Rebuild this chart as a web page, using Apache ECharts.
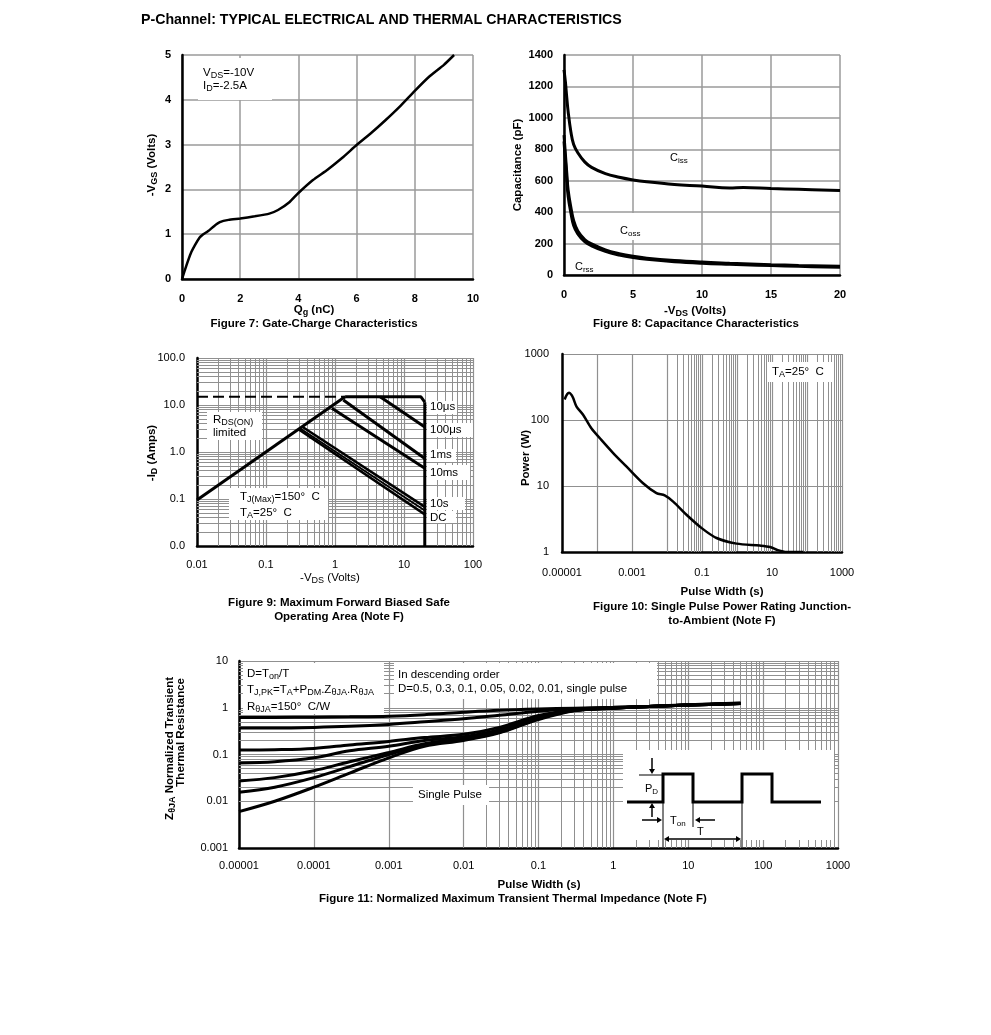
<!DOCTYPE html>
<html>
<head>
<meta charset="utf-8">
<script src="https://cdn.jsdelivr.net/npm/echarts@6/dist/echarts.min.js"></script>
<style>
html,body{margin:0;padding:0;background:#fff;}
#c{width:991px;height:1035px;}
</style>
</head>
<body>
<div id="c"></div>
<script>
// ---------------- DATA ----------------
// Figure 7: Gate charge
const gcQg  = [0, 0.15, 0.3, 0.45, 0.6, 0.7, 0.9, 1.1, 1.3, 1.6, 2.0, 2.5, 3.0, 3.3, 3.7, 4.0, 4.5, 5.0, 5.5, 6.0, 6.5, 7.0, 7.5, 8.0, 8.5, 9.0, 9.35];
const gcVgs = [0, 0.30, 0.57, 0.76, 0.92, 0.98, 1.07, 1.18, 1.27, 1.32, 1.35, 1.40, 1.46, 1.54, 1.72, 1.92, 2.21, 2.44, 2.70, 2.99, 3.26, 3.55, 3.86, 4.20, 4.52, 4.78, 5.0];

// Figure 8: Capacitance
const capVds = [0, 0.1, 0.2, 0.3, 0.5, 0.7, 1, 1.5, 2, 3, 4, 5, 6, 8, 10, 12, 13, 15, 17, 20];
const capCiss = [1305, 1230, 1130, 1040, 910, 830, 778, 720, 685, 645, 622, 605, 593, 576, 566, 553, 557, 550, 545, 538];
const capCoss = [890, 770, 650, 540, 430, 345, 280, 226, 198, 160, 136, 119, 107, 92, 82, 75, 72, 66, 61, 55];
const capCrss = [850, 730, 610, 500, 395, 315, 262, 212, 186, 150, 127, 111, 100, 85, 75, 68, 65, 60, 55, 49];

// Figure 9: Safe operating area ([-VDS, -ID] pairs)
const soaRdsLimit = [[0.01, 0.095], [1.4, 15]];
const soaCurrentLimit = [[0.01, 15], [1.4, 15]];
const soa10us  = [[1.4, 15], [17.5, 15], [20, 11.5]];
const soaBvdss = [[20, 11.5], [20, 0.01]];
const soa100us = [[4.5, 15], [20, 3.4]];
const soa1ms   = [[1.32, 12.8], [20, 0.73]];
const soa10ms  = [[0.9, 8.5], [20, 0.45]];
const soa10s   = [[0.335, 3.45], [20, 0.068]];
const soa1s    = [[0.31, 3.2], [20, 0.057]];
const soaDC    = [[0.295, 3.05], [20, 0.047]];

// Figure 10: Single pulse power
const sppWidth = [1.19e-5, 1.4e-5, 1.6e-5, 1.9e-5, 2.1e-5, 2.6e-5, 4e-5, 6.9e-5, 1.33e-4, 2.9e-4, 6.9e-4, 2.07e-3, 5e-3, 8.6e-3, 1.5e-2, 3.6e-2, 9.8e-2, 0.26, 0.97, 4.5, 8.8, 13.7, 26, 80];
const sppPower = [205, 245, 258, 238, 214, 160, 120, 75, 50, 31.6, 19.8, 11, 7.8, 7.2, 5.8, 3.67, 2.3, 1.63, 1.34, 1.25, 1.19, 1.08, 1.0, 1.0];

// Figure 11: Normalized transient thermal impedance
const ztWidth = [1e-5, 3e-5, 1e-4, 3e-4, 1e-3, 3e-3, 1e-2, 3e-2, 0.1, 0.3, 1, 3, 10, 50];
const ztD05   = [0.62, 0.62, 0.63, 0.64, 0.66, 0.71, 0.80, 0.88, 0.94, 0.98, 1.02, 1.08, 1.16, 1.26];
const ztD03   = [0.37, 0.37, 0.38, 0.40, 0.44, 0.50, 0.58, 0.69, 0.84, 0.95, 1.01, 1.07, 1.15, 1.25];
const ztD01   = [0.125, 0.127, 0.135, 0.16, 0.19, 0.23, 0.27, 0.38, 0.68, 0.90, 0.99, 1.06, 1.14, 1.24];
const ztD005  = [0.066, 0.07, 0.085, 0.12, 0.15, 0.20, 0.24, 0.34, 0.64, 0.89, 0.99, 1.06, 1.14, 1.24];
const ztD002  = [0.027, 0.032, 0.045, 0.07, 0.11, 0.17, 0.22, 0.31, 0.60, 0.88, 0.98, 1.06, 1.14, 1.24];
const ztD001  = [0.0155, 0.02, 0.032, 0.055, 0.10, 0.16, 0.21, 0.30, 0.58, 0.87, 0.98, 1.06, 1.14, 1.24];
const ztSingle= [0.006, 0.01, 0.02, 0.04, 0.085, 0.15, 0.20, 0.29, 0.56, 0.86, 0.98, 1.06, 1.14, 1.24];

// ---------------- STYLE / HELPERS ----------------
const FONT = '"Liberation Sans", Arial, Helvetica, sans-serif';
const GRIDC = '#9a9a9a';
const LOGGRIDC = '#909090';
const TICK_FS = 11;
const zip = (xs, ys) => xs.map((x, i) => [x, ys[i]]);

function fmtLog(v) {
  const e = Math.round(Math.log10(v));
  return e >= 0 ? String(Math.pow(10, e)) : Math.pow(10, e).toFixed(-e);
}
function minorVals(lo, hi) {
  const out = [];
  for (let e = Math.round(Math.log10(lo)); e < Math.round(Math.log10(hi)); e++)
    for (let m = 2; m <= 9; m++) out.push(+(m * Math.pow(10, e)).toPrecision(3));
  return out;
}
function axisCommon(gi, bold, margin, extra) {
  return Object.assign({
    gridIndex: gi,
    axisLine: { show: true, onZero: false, lineStyle: { color: '#000', width: 2.5 } },
    axisTick: { show: false },
    axisLabel: { color: '#000', fontFamily: FONT, fontSize: TICK_FS, fontWeight: bold ? 'bold' : 'normal', margin: margin, formatter: v => String(v) },
    splitLine: { show: true, lineStyle: { color: GRIDC, width: 1.5 } }
  }, extra);
}
function logAxis(gi, margin, extra, formatter) {
  return axisCommon(gi, false, margin, Object.assign({
    type: 'log', logBase: 10,
    axisLabel: { color: '#000', fontFamily: FONT, fontSize: TICK_FS, margin: margin, formatter: formatter },
    splitLine: { show: true, lineStyle: { color: LOGGRIDC, width: 1.2 } }
  }, extra));
}
function minorSeries(ai, xs, ys) {
  return {
    type: 'line', xAxisIndex: ai, yAxisIndex: ai, data: [], z: 1, silent: true,
    markLine: {
      silent: true, symbol: 'none', animation: false,
      label: { show: false },
      lineStyle: { color: LOGGRIDC, width: 1, type: 'solid' },
      emphasis: { disabled: true },
      data: xs.map(v => ({ xAxis: v })).concat(ys.map(v => ({ yAxis: v })))
    }
  };
}
function curve(ai, data, width, smooth, extra) {
  return Object.assign({
    type: 'line', xAxisIndex: ai, yAxisIndex: ai, data: data, z: 10,
    showSymbol: false, symbol: 'none', smooth: smooth, silent: true,
    lineStyle: { color: '#000', width: width },
    emphasis: { disabled: true }
  }, extra || {});
}

// rich text: "V_{DS}=-10V" -> tokens
function richStr(s) {
  let out = '';
  const re = /_\{([^}]*)\}/g;
  let last = 0, m;
  while ((m = re.exec(s)) !== null) {
    if (m.index > last) out += '{n|' + s.slice(last, m.index) + '}';
    out += '{s|' + m[1] + '}';
    last = re.lastIndex;
  }
  if (last < s.length) out += '{n|' + s.slice(last) + '}';
  return out;
}
function richStyles(fs, bold) {
  const fw = bold ? 'bold' : 'normal';
  return {
    n: { fontFamily: FONT, fontSize: fs, fontWeight: fw, fill: '#000', lineHeight: Math.round(fs * 1.3), verticalAlign: 'middle' },
    s: { fontFamily: FONT, fontSize: Math.round(fs * 0.74), fontWeight: fw, fill: '#000', lineHeight: Math.round(fs * 0.95), verticalAlign: 'bottom' }
  };
}
function txt(x, y, s, o) {
  o = o || {};
  const fs = o.fs || 11.5, bold = !!o.bold;
  return {
    type: 'text', x: x, y: y, z: 20, silent: true, rotation: o.rot || 0,
    style: {
      text: richStr(s), rich: richStyles(fs, bold),
      fontFamily: FONT, fontSize: fs, fontWeight: bold ? 'bold' : 'normal', fill: '#000',
      align: o.align || 'left', verticalAlign: o.va || 'middle'
    }
  };
}
function box(x, y, w, h) {
  return { type: 'rect', z: 15, silent: true, shape: { x: x, y: y, width: w, height: h }, style: { fill: '#fff' } };
}
function seg(x1, y1, x2, y2, w) {
  return { type: 'line', z: 21, silent: true, shape: { x1: x1, y1: y1, x2: x2, y2: y2 }, style: { stroke: '#000', lineWidth: w || 1 } };
}
function head(x, y, dir) { // arrow head with tip at (x,y)
  const L = 5, W = 3;
  let pts;
  if (dir === 'down') pts = [[x, y], [x - W, y - L], [x + W, y - L]];
  if (dir === 'up') pts = [[x, y], [x - W, y + L], [x + W, y + L]];
  if (dir === 'right') pts = [[x, y], [x - L, y - W], [x - L, y + W]];
  if (dir === 'left') pts = [[x, y], [x + L, y - W], [x + L, y + W]];
  return { type: 'polygon', z: 21, silent: true, shape: { points: pts }, style: { fill: '#000' } };
}

// ---------------- LAYOUT ----------------
const grids = [
  { left: 182, top: 55, width: 291, height: 224 },
  { left: 564, top: 55, width: 276, height: 220 },
  { left: 197, top: 358, width: 276, height: 188 },
  { left: 562, top: 354, width: 280, height: 198 },
  { left: 239, top: 661, width: 599, height: 187 }
];

const xAxes = [
  axisCommon(0, true, 14, { type: 'value', min: 0, max: 10, interval: 2 }),
  axisCommon(1, true, 14, { type: 'value', min: 0, max: 20, interval: 5 }),
  logAxis(2, 13, { min: 0.01, max: 100, splitNumber: 4 }, fmtLog),
  logAxis(3, 15, { min: 1e-5, max: 1000, splitNumber: 8 },
    v => (Math.round(Math.log10(v)) % 2 === 0 ? '' : fmtLog(v))),
  logAxis(4, 12, { min: 1e-5, max: 1000, splitNumber: 8 }, fmtLog)
];
const yAxes = [
  axisCommon(0, true, 11, { type: 'value', min: 0, max: 5, interval: 1 }),
  axisCommon(1, true, 11, { type: 'value', min: 0, max: 1400, interval: 200 }),
  logAxis(2, 12, { min: 0.01, max: 100, splitNumber: 4 },
    v => Math.pow(10, Math.round(Math.log10(v))).toFixed(1)),
  logAxis(3, 13, { min: 1, max: 1000, splitNumber: 3 }, fmtLog),
  logAxis(4, 11, { min: 0.001, max: 10, splitNumber: 4 }, fmtLog)
];

const series = [
  // minor log grid lines
  minorSeries(2, minorVals(0.01, 100), minorVals(0.01, 100)),
  minorSeries(3, minorVals(1e-5, 1000), []),
  minorSeries(4, minorVals(1e-5, 1000), minorVals(0.001, 10)),
  // Fig 7
  curve(0, zip(gcQg, gcVgs), 2.5, 0.15),
  // Fig 8
  curve(1, zip(capVds, capCiss), 3, 0.4),
  curve(1, zip(capVds, capCoss), 3, 0.4),
  curve(1, zip(capVds, capCrss), 3, 0.4),
  // Fig 9
  curve(2, soaCurrentLimit, 2, false, { lineStyle: { color: '#000', width: 2, type: [11, 5] } }),
  curve(2, soaRdsLimit, 3, false),
  curve(2, soa10us, 3, false),
  curve(2, soaBvdss, 3, false),
  curve(2, soa100us, 3, false),
  curve(2, soa1ms, 3, false),
  curve(2, soa10ms, 3, false),
  curve(2, soa10s, 2.5, false),
  curve(2, soa1s, 2, false),
  curve(2, soaDC, 2.5, false),
  // Fig 10
  curve(3, zip(sppWidth, sppPower), 2.5, 0.3),
  // Fig 11
  curve(4, zip(ztWidth, ztD05), 3, 0.35),
  curve(4, zip(ztWidth, ztD03), 3, 0.35),
  curve(4, zip(ztWidth, ztD01), 3, 0.35),
  curve(4, zip(ztWidth, ztD005), 3, 0.35),
  curve(4, zip(ztWidth, ztD002), 3, 0.35),
  curve(4, zip(ztWidth, ztD001), 3, 0.35),
  curve(4, zip(ztWidth, ztSingle), 3, 0.35)
];

const R = Math.PI / 2;
const CAP = 11.5;
const graphics = [
  // page title
  txt(141, 20, 'P-Channel: TYPICAL ELECTRICAL AND THERMAL CHARACTERISTICS', { fs: 14.2, bold: true }),

  // Fig 7
  box(198, 58, 74, 42),
  txt(203, 73, 'V_{DS}=-10V'),
  txt(203, 86, 'I_{D}=-2.5A'),
  txt(314, 310, 'Q_{g} (nC)', { fs: CAP, bold: true, align: 'center' }),
  txt(314, 324, 'Figure 7: Gate-Charge Characteristics', { fs: CAP, bold: true, align: 'center' }),
  txt(152, 165, '-V_{GS} (Volts)', { fs: CAP, bold: true, align: 'center', rot: R }),

  // Fig 8
  box(666, 151, 34, 14),
  txt(670, 158, 'C_{iss}', { fs: 11 }),
  box(617, 213, 34, 27),
  txt(620, 231, 'C_{oss}', { fs: 11 }),
  txt(575, 267, 'C_{rss}', { fs: 11 }),
  txt(695, 311, '-V_{DS} (Volts)', { fs: CAP, bold: true, align: 'center' }),
  txt(696, 324, 'Figure 8: Capacitance Characteristics', { fs: CAP, bold: true, align: 'center' }),
  txt(518, 165, 'Capacitance (pF)', { fs: CAP, bold: true, align: 'center', rot: R }),

  // Fig 9
  box(207, 412, 55, 28),
  txt(213, 420, 'R_{DS(ON)}'),
  txt(213, 433, 'limited'),
  box(229, 488, 99, 32),
  txt(240, 497, 'T_{J(Max)}=150°  C'),
  txt(240, 513, 'T_{A}=25°  C'),
  box(427, 401, 30, 13), txt(430, 407, '10μs'),
  box(427, 423, 46, 14), txt(430, 430, '100μs'),
  box(427, 449, 29, 13), txt(430, 455, '1ms'),
  box(427, 465, 43, 15), txt(430, 473, '10ms'),
  box(427, 497, 38, 13), txt(430, 504, '10s'),
  box(427, 511, 29, 12), txt(430, 518, 'DC'),
  txt(330, 578, '-V_{DS} (Volts)', { fs: CAP, align: 'center' }),
  txt(339, 603, 'Figure 9: Maximum Forward Biased Safe', { fs: CAP, bold: true, align: 'center' }),
  txt(339, 617, 'Operating Area (Note F)', { fs: CAP, bold: true, align: 'center' }),
  txt(152, 453, '-I_{D} (Amps)', { fs: CAP, bold: true, align: 'center', rot: R }),

  // Fig 10
  box(768, 362, 64, 20),
  txt(772, 372, 'T_{A}=25°  C'),
  txt(722, 592, 'Pulse Width (s)', { fs: CAP, bold: true, align: 'center' }),
  txt(722, 607, 'Figure 10: Single Pulse Power Rating Junction-', { fs: CAP, bold: true, align: 'center' }),
  txt(722, 621, 'to-Ambient (Note F)', { fs: CAP, bold: true, align: 'center' }),
  txt(526, 458, 'Power (W)', { fs: CAP, bold: true, align: 'center', rot: R }),

  // Fig 11
  box(243, 663, 141, 51),
  txt(247, 674, 'D=T_{on}/T'),
  txt(247, 690, 'T_{J,PK}=T_{A}+P_{DM}.Z_{θJA}.R_{θJA}'),
  txt(247, 707, 'R_{θJA}=150°  C/W'),
  box(394, 663, 263, 36),
  txt(398, 675, 'In descending order'),
  txt(398, 689, 'D=0.5, 0.3, 0.1, 0.05, 0.02, 0.01, single pulse'),
  box(413, 785, 76, 20),
  txt(418, 795, 'Single Pulse'),
  txt(539, 885, 'Pulse Width (s)', { fs: CAP, bold: true, align: 'center' }),
  txt(513, 899, 'Figure 11: Normalized Maximum Transient Thermal Impedance (Note F)', { fs: CAP, bold: true, align: 'center' }),
  txt(170, 677, 'Z_{θJA} Normalized Transient', { fs: CAP, bold: true, align: 'right', rot: R }),
  txt(181, 678, 'Thermal Resistance', { fs: CAP, bold: true, align: 'right', rot: R }),

  // Fig 11 inset: pulse diagram
  box(623, 750, 211, 90),
  { type: 'polyline', z: 22, silent: true,
    shape: { points: [[627, 802], [663, 802], [663, 774], [693, 774], [693, 802], [742, 802], [742, 774], [772, 774], [772, 802], [821, 802]] },
    style: { stroke: '#000', lineWidth: 3, fill: null } },
  seg(639, 775, 663, 775),
  seg(663, 802, 663, 847),
  seg(693, 802, 693, 827),
  seg(742, 802, 742, 847),
  seg(652, 758, 652, 770, 1.5), head(652, 774, 'down'),
  seg(652, 817, 652, 807, 1.5), head(652, 803, 'up'),
  seg(642, 820, 658, 820, 1.5), head(662, 820, 'right'),
  seg(715, 820, 699, 820, 1.5), head(695, 820, 'left'),
  seg(668, 839, 737, 839, 1.5), head(664, 839, 'left'), head(741, 839, 'right'),
  txt(645, 789, 'P_{D}', { fs: 11 }),
  txt(670, 821, 'T_{on}', { fs: 11 }),
  txt(697, 832, 'T', { fs: 11 })
];

const chart = echarts.init(document.getElementById('c'), null, { renderer: 'canvas' });
chart.setOption({
  animation: false,
  backgroundColor: '#fff',
  grid: grids,
  xAxis: xAxes,
  yAxis: yAxes,
  series: series,
  graphic: { elements: graphics }
});
</script>
</body>
</html>
